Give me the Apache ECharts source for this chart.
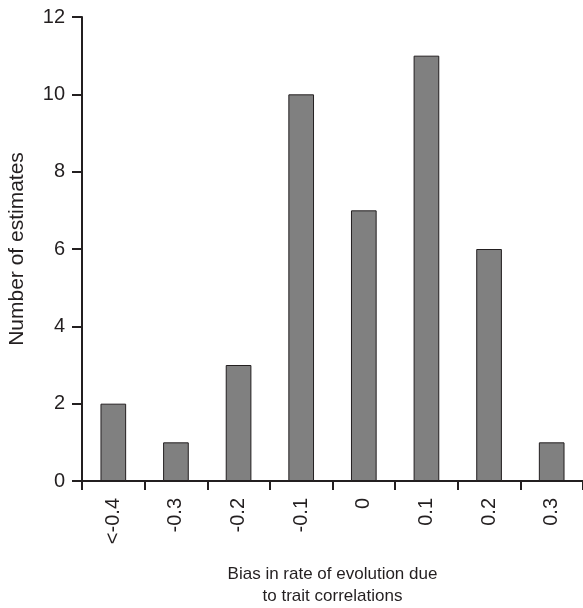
<!DOCTYPE html>
<html><head><meta charset="utf-8">
<script src="https://cdn.jsdelivr.net/npm/echarts@6/dist/echarts.min.js"></script>
<style>html,body{margin:0;padding:0;background:#fff}#c{width:583px;height:608px}</style>
</head><body><div id="c"></div>
<script>
const categories = ['<-0.4','-0.3','-0.2','-0.1','0','0.1','0.2','0.3'];
const counts = [2,1,3,10,7,11,6,1];
const yTicks = [0,2,4,6,8,10,12];
const xTitle = 'Bias in rate of evolution due\nto trait correlations';
const yTitle = 'Number of estimates';
const ink = '#231f20';
const font = 'Liberation Sans, Arial, sans-serif';
const chart = echarts.init(document.getElementById('c'));
chart.setOption({
  animation:false,
  grid:{left:82,right:0,top:17,height:464,containLabel:false,outerBoundsMode:'none'},
  xAxis:{type:'category',data:categories,
    name:xTitle,nameLocation:'middle',nameGap:82,
    nameTextStyle:{fontFamily:font,fontSize:17,color:ink,lineHeight:22},
    axisLine:{lineStyle:{color:ink,width:2}},
    axisTick:{show:true,alignWithLabel:false,length:9,lineStyle:{color:ink,width:2}},
    axisLabel:{rotate:90,fontFamily:font,fontSize:20,color:ink,margin:17,interval:0}},
  yAxis:{type:'value',min:yTicks[0],max:yTicks[yTicks.length-1],interval:2,
    name:yTitle,nameLocation:'middle',nameGap:54,
    nameTextStyle:{fontFamily:font,fontSize:21,color:ink},
    axisLine:{show:true,lineStyle:{color:ink,width:2}},
    axisTick:{show:true,length:10,lineStyle:{color:ink,width:2}},
    axisLabel:{fontFamily:font,fontSize:20,color:ink,margin:17},
    splitLine:{show:false}},
  series:[{type:'bar',data:counts,barWidth:'41%',
    itemStyle:{color:'#808080',borderColor:ink,borderWidth:1}}]
});
</script></body></html>
